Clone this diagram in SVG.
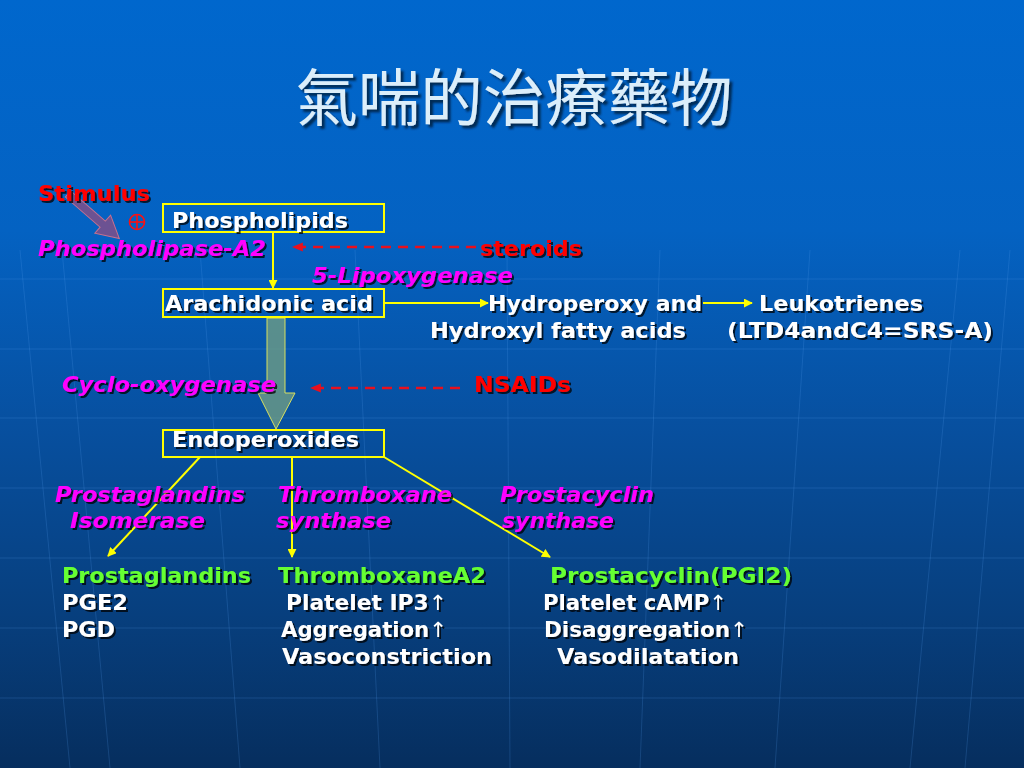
<svg xmlns="http://www.w3.org/2000/svg" width="1024" height="768" viewBox="0 0 1024 768">
<defs>
<linearGradient id="bg" x1="0" y1="0" x2="0" y2="1">
<stop offset="0" stop-color="#0067CD"/>
<stop offset="0.3" stop-color="#0462C2"/>
<stop offset="0.55" stop-color="#0750A0"/>
<stop offset="0.8" stop-color="#073F7E"/>
<stop offset="1" stop-color="#062E5E"/>
</linearGradient>
<filter id="sh" x="-5%" y="-20%" width="110%" height="140%">
<feDropShadow dx="2" dy="2" stdDeviation="0.6" flood-color="#000000" flood-opacity="0.75"/>
</filter>
<filter id="tsh" x="-5%" y="-20%" width="110%" height="140%">
<feDropShadow dx="3" dy="3" stdDeviation="1" flood-color="#062040" flood-opacity="0.85"/>
</filter>
<marker id="ya" viewBox="0 0 10 10" refX="9" refY="5" markerWidth="9" markerHeight="9" orient="auto" markerUnits="userSpaceOnUse">
<path d="M0,0 L10,5 L0,10 Z" fill="#FFFF00"/>
</marker>
<marker id="ra" viewBox="0 0 10 10" refX="9" refY="5" markerWidth="11" markerHeight="11" orient="auto" markerUnits="userSpaceOnUse">
<path d="M0,1 L10,5 L0,9 Z" fill="#E8101E"/>
</marker>
<style>
text{font-family:"DejaVu Sans","Verdana",sans-serif;font-weight:bold;font-size:21px}
.w{fill:#FFFFFF}
.m{fill:#FF00FF;font-style:italic}
.r{fill:#FF0000}
.g{fill:#66FF33}
.box{fill:none;stroke:#FFFF00;stroke-width:2}
.yl{stroke:#FFFF00;stroke-width:2;fill:none}
.dash{stroke:#E8101E;stroke-width:2.5;stroke-dasharray:10 7;fill:none}
.grid{stroke:#5AA0F0;stroke-width:1;opacity:0.2;fill:none}
.up{font-weight:normal}
</style>
</defs>
<rect width="1024" height="768" fill="url(#bg)"/>
<g id="grid">
<line class="grid" x1="0" y1="279" x2="1024" y2="279"/>
<line class="grid" x1="0" y1="349" x2="1024" y2="349"/>
<line class="grid" x1="0" y1="418" x2="1024" y2="418"/>
<line class="grid" x1="0" y1="488" x2="1024" y2="488"/>
<line class="grid" x1="0" y1="558" x2="1024" y2="558" opacity="0.12"/>
<line class="grid" x1="0" y1="628" x2="1024" y2="628" opacity="0.12"/>
<line class="grid" x1="0" y1="698" x2="1024" y2="698"/>
<line class="grid" x1="20" y1="250" x2="70" y2="768"/>
<line class="grid" x1="62" y1="250" x2="110" y2="768"/>
<line class="grid" x1="200" y1="250" x2="240" y2="768"/>
<line class="grid" x1="355" y1="250" x2="380" y2="768"/>
<line class="grid" x1="507" y1="250" x2="510" y2="768"/>
<line class="grid" x1="660" y1="250" x2="640" y2="768"/>
<line class="grid" x1="810" y1="250" x2="775" y2="768"/>
<line class="grid" x1="960" y1="250" x2="910" y2="768"/>
<line class="grid" x1="1010" y1="250" x2="965" y2="768"/>
</g>
<g id="title">
<text x="514" y="121" text-anchor="middle" filter="url(#tsh)" style="font-family:'Noto Sans CJK TC','Noto Sans CJK SC',sans-serif;font-weight:normal;font-size:62px;fill:#DCEEFA" textLength="437" lengthAdjust="spacingAndGlyphs">氣喘的治療藥物</text>
</g>
<g id="connectors">
<polygon points="0,-4 46,-4 46,-12 68,0 46,12 46,4 0,4" transform="translate(68,194) rotate(41)" fill="#B24872" fill-opacity="0.6" stroke="#C8708E" stroke-width="1"/>
<line class="yl" x1="273" y1="233" x2="273" y2="288" marker-end="url(#ya)"/>
<line class="yl" x1="385" y1="303" x2="488" y2="303" marker-end="url(#ya)"/>
<line class="yl" x1="703" y1="303" x2="752" y2="303" marker-end="url(#ya)"/>
<polygon points="267,318 285,318 285,393 295,393 276,429 258,393 267,393" fill="#6E9C84" fill-opacity="0.8" stroke="#D8E060" stroke-width="1"/>
<line class="dash" x1="476" y1="247" x2="293" y2="247" marker-end="url(#ra)"/>
<line class="dash" x1="460" y1="388" x2="311" y2="388" marker-end="url(#ra)"/>
<line class="yl" x1="200" y1="457" x2="108" y2="556" marker-end="url(#ya)"/>
<line class="yl" x1="292" y1="457" x2="292" y2="557" marker-end="url(#ya)"/>
<line class="yl" x1="384" y1="457" x2="550" y2="557" marker-end="url(#ya)"/>
</g>
<g id="stimulus" filter="url(#sh)">
<text class="r" x="38" y="201" textLength="112" lengthAdjust="spacingAndGlyphs">Stimulus</text>
</g>
<g id="plus">
<circle cx="137" cy="222" r="7.5" fill="none" stroke="#FF1010" stroke-width="1.6"/>
<line x1="129.5" y1="222" x2="144.5" y2="222" stroke="#FF1010" stroke-width="1.6"/>
<line x1="137" y1="214.5" x2="137" y2="229.5" stroke="#FF1010" stroke-width="1.6"/>
</g>
<g id="phospholipids">
<rect class="box" x="163" y="204" width="221" height="28"/>
<text class="w" x="172" y="228" filter="url(#sh)" textLength="176" lengthAdjust="spacingAndGlyphs">Phospholipids</text>
</g>
<g id="pla2" filter="url(#sh)">
<text class="m" x="38" y="256" textLength="228" lengthAdjust="spacingAndGlyphs">Phospholipase-A2</text>
</g>
<g id="steroids" filter="url(#sh)">
<text class="r" x="480" y="256" textLength="102" lengthAdjust="spacingAndGlyphs">steroids</text>
</g>
<g id="lipox" filter="url(#sh)">
<text class="m" x="312" y="283" textLength="201" lengthAdjust="spacingAndGlyphs">5-Lipoxygenase</text>
</g>
<g id="arachidonic">
<rect class="box" x="163" y="289" width="221" height="28"/>
<text class="w" x="165" y="311" filter="url(#sh)" textLength="208" lengthAdjust="spacingAndGlyphs">Arachidonic acid</text>
</g>
<g id="hydroperoxy" filter="url(#sh)">
<text class="w" x="488" y="311" textLength="214" lengthAdjust="spacingAndGlyphs">Hydroperoxy and</text>
<text class="w" x="430" y="338" textLength="256" lengthAdjust="spacingAndGlyphs">Hydroxyl fatty acids</text>
</g>
<g id="leukotrienes" filter="url(#sh)">
<text class="w" x="759" y="311" textLength="164" lengthAdjust="spacingAndGlyphs">Leukotrienes</text>
<text class="w" x="727" y="338" textLength="266" lengthAdjust="spacingAndGlyphs">(LTD4andC4=SRS-A)</text>
</g>
<g id="cox" filter="url(#sh)">
<text class="m" x="62" y="392" textLength="214" lengthAdjust="spacingAndGlyphs">Cyclo-oxygenase</text>
</g>
<g id="nsaids" filter="url(#sh)">
<text class="r" x="474" y="392" textLength="97" lengthAdjust="spacingAndGlyphs">NSAIDs</text>
</g>
<g id="endoperoxides">
<rect class="box" x="163" y="430" width="221" height="27"/>
<text class="w" x="172" y="447" filter="url(#sh)" textLength="187" lengthAdjust="spacingAndGlyphs">Endoperoxides</text>
</g>
<g id="enzymes" filter="url(#sh)">
<text class="m" x="55" y="502" textLength="190" lengthAdjust="spacingAndGlyphs">Prostaglandins</text>
<text class="m" x="70" y="528" textLength="135" lengthAdjust="spacingAndGlyphs">Isomerase</text>
<text class="m" x="278" y="502" textLength="174" lengthAdjust="spacingAndGlyphs">Thromboxane</text>
<text class="m" x="276" y="528" textLength="115" lengthAdjust="spacingAndGlyphs">synthase</text>
<text class="m" x="500" y="502" textLength="154" lengthAdjust="spacingAndGlyphs">Prostacyclin</text>
<text class="m" x="502" y="528" textLength="112" lengthAdjust="spacingAndGlyphs">synthase</text>
</g>
<g id="prostaglandins" filter="url(#sh)">
<text class="g" x="62" y="583" textLength="189" lengthAdjust="spacingAndGlyphs">Prostaglandins</text>
<text class="w" x="62" y="610" textLength="66" lengthAdjust="spacingAndGlyphs">PGE2</text>
<text class="w" x="62" y="637" textLength="53" lengthAdjust="spacingAndGlyphs">PGD</text>
</g>
<g id="thromboxane" filter="url(#sh)">
<text class="g" x="278" y="583" textLength="208" lengthAdjust="spacingAndGlyphs">ThromboxaneA2</text>
<text class="w" x="286" y="610" textLength="161" lengthAdjust="spacingAndGlyphs">Platelet IP3<tspan class="up">↑</tspan></text>
<text class="w" x="281" y="637" textLength="166" lengthAdjust="spacingAndGlyphs">Aggregation<tspan class="up">↑</tspan></text>
<text class="w" x="282" y="664" textLength="210" lengthAdjust="spacingAndGlyphs">Vasoconstriction</text>
</g>
<g id="prostacyclin" filter="url(#sh)">
<text class="g" x="550" y="583" textLength="242" lengthAdjust="spacingAndGlyphs">Prostacyclin(PGI2)</text>
<text class="w" x="543" y="610" textLength="184" lengthAdjust="spacingAndGlyphs">Platelet cAMP<tspan class="up">↑</tspan></text>
<text class="w" x="544" y="637" textLength="204" lengthAdjust="spacingAndGlyphs">Disaggregation<tspan class="up">↑</tspan></text>
<text class="w" x="557" y="664" textLength="182" lengthAdjust="spacingAndGlyphs">Vasodilatation</text>
</g>
</svg>
